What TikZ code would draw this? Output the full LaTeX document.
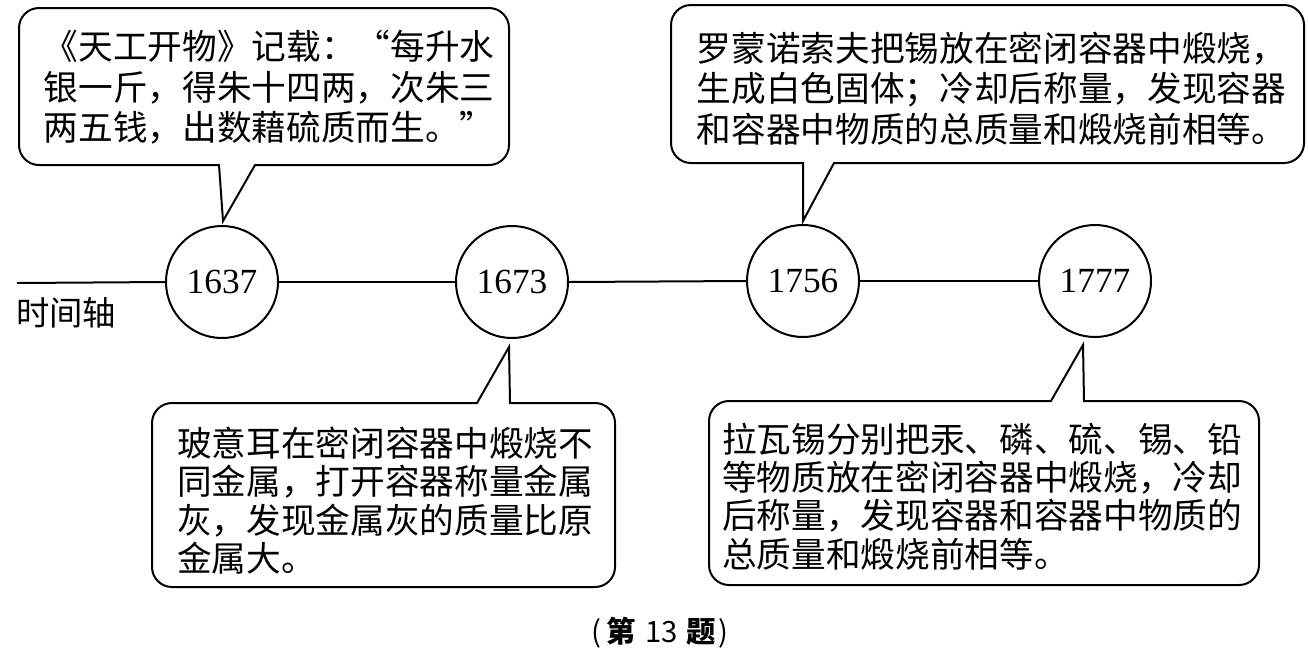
\documentclass[tikz,border=0pt]{standalone}
\usepackage{fontspec}
\setmainfont{Liberation Serif}
\newfontfamily\cjk{Noto Sans CJK SC}
\begin{document}
\begin{tikzpicture}[x=0.75pt,y=-0.75pt,
  every node/.style={inner sep=0pt},
  yearnode/.style={draw, circle, line width=1.5pt, minimum size=84pt, font=\fontsize{26.5}{30}\selectfont},
  axisline/.style={line width=1.5pt},
  bubble/.style={draw, line width=1.5pt},
  toptext/.style={align=left, font=\cjk\fontsize{26}{30.4}\selectfont},
  bottext/.style={align=left, font=\cjk\fontsize{26}{28.8}\selectfont}]
\useasboundingbox (0,0) rectangle (1308,658);
% timeline
\node[yearnode] (c1637) at (222,282) {1637};
\node[yearnode] (c1673) at (512,282) {1673};
\node[yearnode] (c1756) at (803,281) {1756};
\node[yearnode] (c1777) at (1095,281) {1777};
\coordinate (start) at (17,283);
\draw[axisline] (start) -- (c1637.west);
\draw[axisline] (c1637.east) -- (c1673.west);
\draw[axisline] (c1673.east) -- (c1756.west);
\draw[axisline] (c1756.east) -- (c1777.west);
\node[font=\cjk\fontsize{25}{25}\selectfont, anchor=west] (axislabel) at (16,313) {时间轴};
% callouts
\draw[bubble] (219,165) -- (223,221) -- (255,165) -- (300,165) [rounded corners=15pt] -- (509,165) -- (509,8) -- (19,8) -- (19,165) -- (150,165) [sharp corners] -- cycle;
\node[toptext] (t1637) at (269,87.5) {《天工开物》记载：“每升水\\银一斤，得朱十四两，次朱三\\两五钱，出数藉硫质而生。”};
\draw[bubble] (803,163) -- (803,221) -- (834,163) -- (900,163) [rounded corners=15pt] -- (1304,163) -- (1304,5) -- (671,5) -- (671,163) -- (750,163) [sharp corners] -- cycle;
\node[toptext] (t1756) at (991.5,88.5) {罗蒙诺索夫把锡放在密闭容器中煅烧，\\生成白色固体；冷却后称量，发现容器\\和容器中物质的总质量和煅烧前相等。};
\draw[bubble] (477,403) -- (509,347) -- (510,403) -- (560,403) [rounded corners=15pt] -- (615,403) -- (615,587) -- (152,587) -- (152,403) -- (400,403) [sharp corners] -- cycle;
\node[bottext] (t1673) at (385,500.5) {玻意耳在密闭容器中煅烧不\\同金属，打开容器称量金属\\灰，发现金属灰的质量比原\\金属大。};
\draw[bubble] (1051,401) -- (1083,345) -- (1084,401) -- (1150,401) [rounded corners=15pt] -- (1259,401) -- (1259,585) -- (709,585) -- (709,401) -- (900,401) [sharp corners] -- cycle;
\node[bottext] (t1777) at (982,496.5) {拉瓦锡分别把汞、磷、硫、锡、铅\\等物质放在密闭容器中煅烧，冷却\\后称量，发现容器和容器中物质的\\总质量和煅烧前相等。};
% caption
\node[font=\cjk\fontsize{22}{22}\selectfont] (caption) at (660,633) {(\hspace{4pt}{\bfseries 第}\hspace{7pt}13\hspace{7pt}{\bfseries 题}\hspace{2pt})};
\end{tikzpicture}
\end{document}
